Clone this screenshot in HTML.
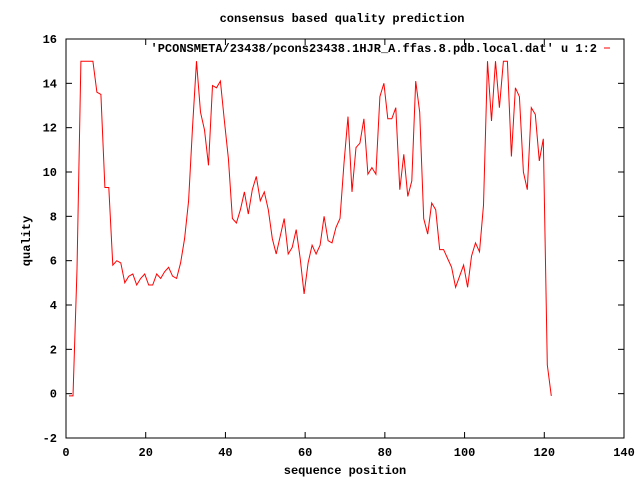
<!DOCTYPE html>
<html><head><meta charset="utf-8"><style>
body{margin:0;background:#fff}
svg{display:block}
text{font-family:"Liberation Mono",monospace;font-weight:bold;font-size:12px;fill:#000}
</style></head><body>
<svg id="chart" width="640" height="480" xmlns="http://www.w3.org/2000/svg">
<text x="342" y="22" text-anchor="middle">consensus based quality prediction</text>
<text x="0" y="0" text-anchor="middle" transform="translate(30,241) rotate(-90)">quality</text>
<text x="345" y="474" text-anchor="middle">sequence position</text>
<g id="axes"></g>
<g id="series"></g>
<text x="597" y="52" text-anchor="end">'PCONSMETA/23438/pcons23438.1HJR_A.ffas.8.pdb.local.dat' u 1:2</text>
<line x1="604" y1="48" x2="610" y2="48" stroke="#f00" stroke-width="1"/>
</svg>
<script>
const xTicks=[0,20,40,60,80,100,120,140];
const yTicks=[-2,0,2,4,6,8,10,12,14,16];
const xStart=0.75;
const qualityValues=[-0.1,-0.1,5.6,15,15,15,15,13.6,13.5,9.3,9.3,5.8,6.0,5.9,5.0,5.3,5.4,4.9,5.2,5.4,4.9,4.9,5.4,5.2,5.5,5.7,5.3,5.2,5.9,7.0,8.7,12.0,15.0,12.7,11.9,10.3,13.9,13.8,14.1,12.3,10.6,7.9,7.7,8.3,9.1,8.1,9.2,9.8,8.7,9.1,8.3,7.0,6.3,7.1,7.9,6.3,6.6,7.4,6.1,4.5,5.9,6.7,6.3,6.7,8.0,6.9,6.8,7.5,7.9,10.4,12.5,9.1,11.1,11.3,12.4,9.9,10.2,9.9,13.4,14.0,12.4,12.4,12.9,9.2,10.8,8.9,9.6,14.1,12.7,7.9,7.2,8.6,8.3,6.5,6.5,6.1,5.7,4.8,5.3,5.8,4.8,6.2,6.8,6.4,8.5,15.0,12.3,15.0,12.9,15.0,15.0,10.7,13.8,13.4,10.0,9.2,12.9,12.6,10.5,11.5,1.3,-0.1];
const L=66,R=624,T=39,B=438;
const sx=v=>L+(v-0)/(140-0)*(R-L);
const sy=v=>B-(v+2)/(16+2)*(B-T);
const NS="http://www.w3.org/2000/svg";
const axes=document.getElementById('axes');
function mk(tag,attrs,parent){const e=document.createElementNS(NS,tag);for(const k in attrs)e.setAttribute(k,attrs[k]);parent.appendChild(e);return e;}
const frame=mk('rect',{x:L,y:T,width:R-L,height:B-T,fill:'none',stroke:'#000','stroke-width':1},axes);


xTicks.forEach(t=>{
 const x=sx(t);
 const a=mk('line',{x1:x,y1:B,x2:x,y2:B-6,stroke:'#000'},axes);
 
 
 const b=mk('line',{x1:x,y1:T,x2:x,y2:T+6,stroke:'#000'},axes);
 
 
 const tx=mk('text',{x:x,y:B+18,'text-anchor':'middle'},axes);tx.textContent=t;
 
 
});
yTicks.forEach(t=>{
 const y=sy(t);
 const a=mk('line',{x1:L,y1:y,x2:L+6,y2:y,stroke:'#000'},axes);
 
 
 const b=mk('line',{x1:R,y1:y,x2:R-6,y2:y,stroke:'#000'},axes);
 
 
 const tx=mk('text',{x:L-9,y:y+4,'text-anchor':'end'},axes);tx.textContent=t;
 
 
});
const pts=qualityValues.map((v,i)=>sx(xStart+i).toFixed(1)+','+sy(v).toFixed(1)).join(' ');
const line=mk('polyline',{points:pts,fill:'none',stroke:'#f00','stroke-width':1},document.getElementById('series'));


</script>
</body></html>
